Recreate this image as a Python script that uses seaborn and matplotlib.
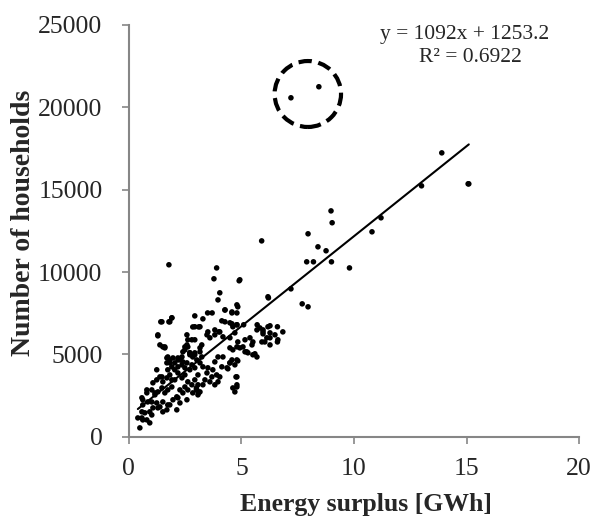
import numpy as np
import pandas as pd
import matplotlib
matplotlib.use("Agg")
import matplotlib.pyplot as plt
import seaborn as sns
from matplotlib.patches import Ellipse

# energy surplus [GWh] and number of households
surplus = [
    15.1, 13.9, 15.07, 13.0, 11.2, 8.76, 7.9, 8.2, 9.0, 9.8, 7.2, 6.2, 7.7, 7.96,
    6.27, 6.27, 6.6, 6.84, 6.6, 5.96, 6.04, 6.27, 5.96,
    8.98, 9.03, 7.96, 5.9, 8.4, 10.8, 7.2, 8.44,
    4.9, 4.84, 4.8, 5.1, 5.7,
    1.78, 3.9, 3.78, 4.04, 3.96, 3.5, 3.7, 4.27, 4.58, 2.93, 3.29, 1.91, 1.78, 1.42,
    4.13, 4.58, 1.29, 2.84, 3.1, 4.0,
    0.49, 0.4, 0.62, 0.93, 0.58, 0.71, 1.02, 1.07, 0.62, 0.84, 0.58, 1.24, 1.38, 1.51,
    1.69, 1.82, 1.96, 2.13, 0.8, 1.02, 1.16, 1.29, 1.47, 1.6, 1.73, 1.91, 2.27, 2.4,
    2.49, 1.07, 1.24, 1.38, 1.51, 1.69, 1.82, 2.04, 2.18, 2.36, 2.49, 2.62, 2.71,
    1.73, 1.91, 2.04, 2.18, 2.36, 2.49, 1.82, 1.96, 2.27, 2.4, 2.58, 2.8, 2.93, 3.02,
    3.16, 2.84, 2.71, 3.24, 3.29, 3.07, 2.93, 2.8, 2.62, 2.84, 3.16, 2.58, 2.27, 2.13,
    3.0, 3.1, 3.47, 3.69, 3.51, 3.73, 3.9, 3.96, 3.82, 4.04, 3.6, 3.38, 3.29,
    4.13, 4.36, 4.49, 4.58, 4.8, 4.71, 4.8, 4.62, 4.8, 4.18, 3.96, 3.82,
    4.8, 4.93, 4.49, 4.62, 5.16, 5.29, 5.51, 5.69,
    4.84, 4.49, 4.71, 4.62, 4.8, 4.49, 4.27, 4.8, 4.58, 4.27,
    4.04, 4.18, 3.82, 3.6, 3.47, 3.24, 3.16, 2.93, 2.8, 2.62, 2.49, 2.71, 2.93, 3.16,
    2.93, 3.16, 3.51, 3.82,
    5.69, 5.82, 5.96, 6.18, 6.27, 6.49, 6.62, 6.13, 5.91, 5.51, 5.38, 5.16, 5.47, 5.07,
    1.51, 1.6, 1.29, 1.47, 1.82, 1.91, 2.49, 2.36, 2.18, 1.69, 1.82, 2.62, 2.58,
    4.93, 4.8, 4.71, 4.8, 4.76, 4.49, 4.4, 4.84, 5.24, 5.6, 3.07, 3.0,
    6.18, 0.58, 0.62, 0.8, 0.93, 1.02, 1.16, 1.24, 1.38, 1.6, 1.47, 1.69, 1.73, 1.91,
    2.04, 2.18, 2.4, 2.58, 2.71, 2.93, 3.02, 3.07, 0.8, 1.51, 1.73, 2.18, 1.29,
]
households = [
    15350, 17230, 15350, 15230, 13290, 11290, 10620, 10620, 10620, 10250, 8980, 8430, 8070, 7890,
    6740, 6010, 6680, 6370, 5760, 6250, 5760, 5580, 6490,
    13710, 12990, 12320, 11890, 11530, 12440, 20570, 21240,
    9470, 7890, 6800, 6800, 6800,
    10440, 10250, 9590, 8740, 8310, 7520, 7520, 7700, 7520, 7340, 7160, 7220, 6980, 6980,
    7040, 6860, 6130, 6670, 6670, 6370,
    546, 1150, 1030, 850, 1520, 1460, 1330, 1760, 1940, 2120, 2370, 2060, 1820, 2120,
    1640, 1940, 2250, 2430, 2670, 2850, 2550, 2730, 2970, 2670, 2850, 3030, 2850, 2670,
    3030, 3280, 3460, 3640, 3340, 3580, 3760, 3460, 3880, 3580, 3760, 3340, 4070,
    4070, 4250, 4490, 4250, 4370, 4190, 4670, 4790, 4670, 4550, 4490, 4370, 4190, 4670,
    4490, 4850, 4980, 4850, 4250, 3760, 3460, 3160, 2850, 2670, 2730, 2250, 2060, 1640,
    2970, 2670, 3880, 3640, 4190, 4070, 3760, 3340, 3160, 3640, 3340, 3460, 3160,
    4250, 4190, 4490, 4670, 4670, 4370, 3640, 2970, 3160, 4850, 4850, 4550,
    5460, 5400, 5400, 5280, 5160, 5100, 4980, 4850,
    5760, 6010, 6310, 6680, 6800, 6920, 6980, 7520, 7580, 7700,
    6370, 6070, 6190, 6010, 6190, 5580, 5400, 5890, 5890, 5460, 5280, 5100, 5100, 5160,
    6680, 6680, 6370, 6490,
    6490, 6610, 6370, 6680, 6310, 6190, 5890, 6010, 5760, 5760, 6010, 5890, 5580, 5460,
    5460, 5400, 6190, 6980, 6980, 7220, 5460, 4850, 4790, 4790, 4490, 5890, 6190,
    9530, 8010, 2730, 3030, 3640, 4490, 4130, 4610, 5160, 5040, 2550, 2850,
    8500, 1150, 2250, 2850, 1520, 2120, 2670, 4070, 5580, 5460, 3640, 4490, 4850, 3460,
    4070, 4670, 5160, 5580, 5100, 4980, 2850, 3160, 1030, 1520, 1940, 2370, 1760,
]

# trendline as printed on the chart
slope = 1092
intercept = 1253.2
r2 = 0.6922

df = pd.DataFrame({"surplus": surplus, "households": households})

sns.set_style("white")
plt.rcParams["font.family"] = ["Liberation Serif", "DejaVu Serif"]

fig = plt.figure(figsize=(6.02, 5.27), dpi=100)
ax = fig.add_axes([0.214, 0.171, 0.748, 0.782])

sns.scatterplot(data=df, x="surplus", y="households", color="black", s=16,
                edgecolor="none", ax=ax)

xs = np.array([df["surplus"].min(), df["surplus"].max()])
sns.lineplot(x=xs, y=slope * xs + intercept, color="black", linewidth=1.5, ax=ax)

# dashed circle round the two outliers
circ = Ellipse((7.95, 20800), width=2.95, height=4000, fill=False,
               edgecolor="black", linewidth=3, linestyle=(0, (3.2, 1.6)))
ax.add_patch(circ)

ax.text(11.15, 24400, f"y = {slope}x + {intercept}", fontsize=15.5, ha="left", va="center")
ax.text(12.9, 23000, f"R² = {r2}", fontsize=15.5, ha="left", va="center")

ax.set_xlim(0, 20)
ax.set_ylim(0, 25000)
ax.set_xticks([0, 5, 10, 15, 20])
ax.set_yticks([0, 5000, 10000, 15000, 20000, 25000])
ax.set_xlabel("Energy surplus [GWh]", fontsize=18.5, fontweight="bold")
ax.set_ylabel("Number of households", fontsize=20, fontweight="bold")
ax.xaxis.set_label_coords(0.527, -0.135)
ax.yaxis.set_label_coords(-0.207, 0.519)

for side in ["top", "right"]:
    ax.spines[side].set_visible(False)
for side in ["left", "bottom"]:
    ax.spines[side].set_color("#868686")
    ax.spines[side].set_linewidth(1.5)
ax.tick_params(axis="both", which="major", direction="out", length=5, width=1.2,
               color="#868686", labelsize=18.5, bottom=True, left=True)
ax.tick_params(axis="x", pad=10)
ax.tick_params(axis="y", pad=14)

fig.savefig("out.png", dpi=100)
